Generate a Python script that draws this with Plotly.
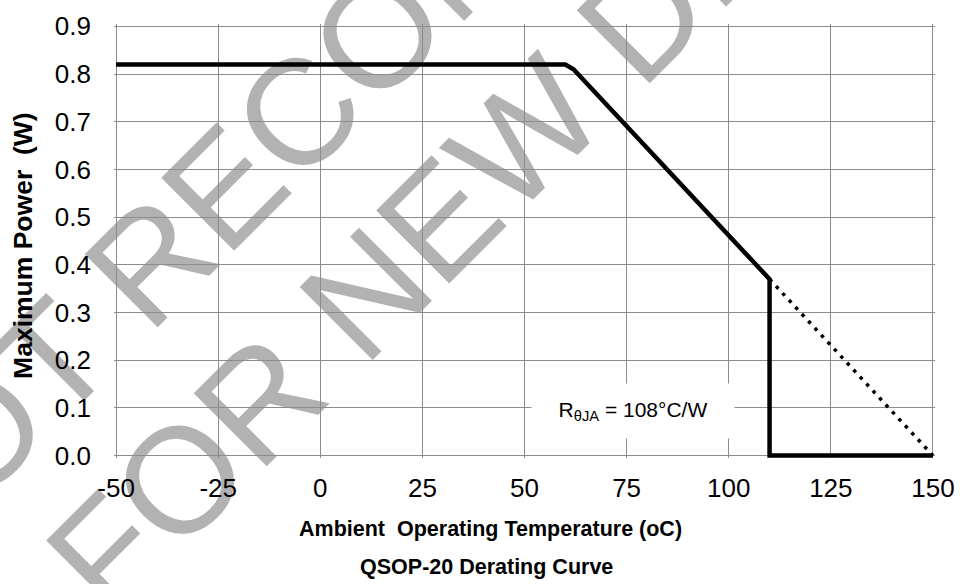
import plotly.graph_objects as go

# Derating curve (solid) and extension to Tj max (dotted)
temp_c = [-50, 60, 62, 110, 110, 150]
power_w = [0.82, 0.82, 0.81, 0.37, 0.0, 0.0]
ext_temp_c = [110, 150]
ext_power_w = [0.37, 0.0]

x_ticks = [-50, -25, 0, 25, 50, 75, 100, 125, 150]
y_ticks = [0.0, 0.1, 0.2, 0.3, 0.4, 0.5, 0.6, 0.7, 0.8, 0.9]

FONT = "Liberation Sans, Arial, sans-serif"
GRID = "#8c8c8c"
W, H = 967, 584
ML, MR, MT, MB = 114, 23, 14, 126
PW, PH = W - ML - MR, H - MT - MB


def paper(px, py):
    """Pixel position on the page -> paper coordinates."""
    return (px - ML) / PW, (H - MB - py) / PH


fig = go.Figure()

fig.add_trace(go.Scatter(
    x=ext_temp_c, y=ext_power_w, mode="lines",
    line=dict(color="black", width=3.5, dash="3.5px,6px"),
    hoverinfo="skip", showlegend=False,
))
fig.add_trace(go.Scatter(
    x=temp_c, y=power_w, mode="lines",
    line=dict(color="black", width=4.5),
    showlegend=False,
))

# Watermark, drawn underneath the grid
for text, (cx, cy) in [("NOT RECOMMENDED", (407, -23)),
                       ("FOR NEW DESIGN", (537, 99))]:
    x0, y0 = paper(cx - 100, cy + 100)
    x1, y1 = paper(cx + 100, cy - 100)
    fig.add_shape(
        type="line", xref="paper", yref="paper",
        x0=x0, y0=y0, x1=x1, y1=y1, layer="below",
        line=dict(color="rgba(0,0,0,0)", width=0),
        label=dict(text=text, textangle=-45, textposition="middle",
                   xanchor="center", yanchor="middle", padding=0,
                   font=dict(family=FONT, size=150, color="#b2b2b2")),
    )

# Thermal resistance label in a white box
fig.add_annotation(
    x=76.6, y=0.094, xref="x", yref="y",
    text="R<sub>θJA</sub> = 108°C/W", showarrow=False,
    width=202, height=54, bgcolor="white", borderpad=0,
    font=dict(family=FONT, size=21, color="black"),
)

# Axis titles and chart caption
ax_x, ax_y = paper(494.5, 531)
fig.add_annotation(
    x=ax_x, y=ax_y, xref="paper", yref="paper", showarrow=False,
    text="<b>Ambient \u00a0Operating Temperature (oC)</b>",
    xanchor="center", yanchor="middle",
    font=dict(family=FONT, size=21.5, color="black"),
)
cap_x, cap_y = paper(491, 569)
fig.add_annotation(
    x=cap_x, y=cap_y, xref="paper", yref="paper", showarrow=False,
    text="<b>QSOP-20 Derating Curve</b>",
    xanchor="center", yanchor="middle",
    font=dict(family=FONT, size=21.5, color="black"),
)
yt_x, yt_y = paper(22, 240)
fig.add_annotation(
    x=yt_x, y=yt_y, xref="paper", yref="paper", showarrow=False,
    text="<b>Maximum Power \u00a0(W)</b>", textangle=-90,
    xanchor="center", yanchor="middle",
    font=dict(family=FONT, size=26.5, color="black"),
)

fig.update_layout(
    width=W, height=H,
    margin=dict(l=ML, r=MR, t=MT, b=MB, pad=0),
    paper_bgcolor="white", plot_bgcolor="white",
    font=dict(family=FONT, color="black"),
    showlegend=False,
)
fig.update_xaxes(
    range=[-50.5, 150.5], tickvals=x_ticks,
    ticktext=[str(v) for v in x_ticks],
    showgrid=True, gridcolor=GRID, gridwidth=1,
    zeroline=False, showline=False, ticks="",
    ticklabelstandoff=12,
    tickfont=dict(family=FONT, size=26, color="black"),
    layer="below traces",
)
fig.update_yaxes(
    range=[-0.005, 0.905], tickvals=y_ticks,
    ticktext=[f"{v:.1f}" for v in y_ticks],
    showgrid=True, gridcolor=GRID, gridwidth=1,
    zeroline=False, showline=False, ticks="",
    ticklabelstandoff=22,
    tickfont=dict(family=FONT, size=26, color="black"),
    layer="below traces",
)

fig.write_html("out.html")
